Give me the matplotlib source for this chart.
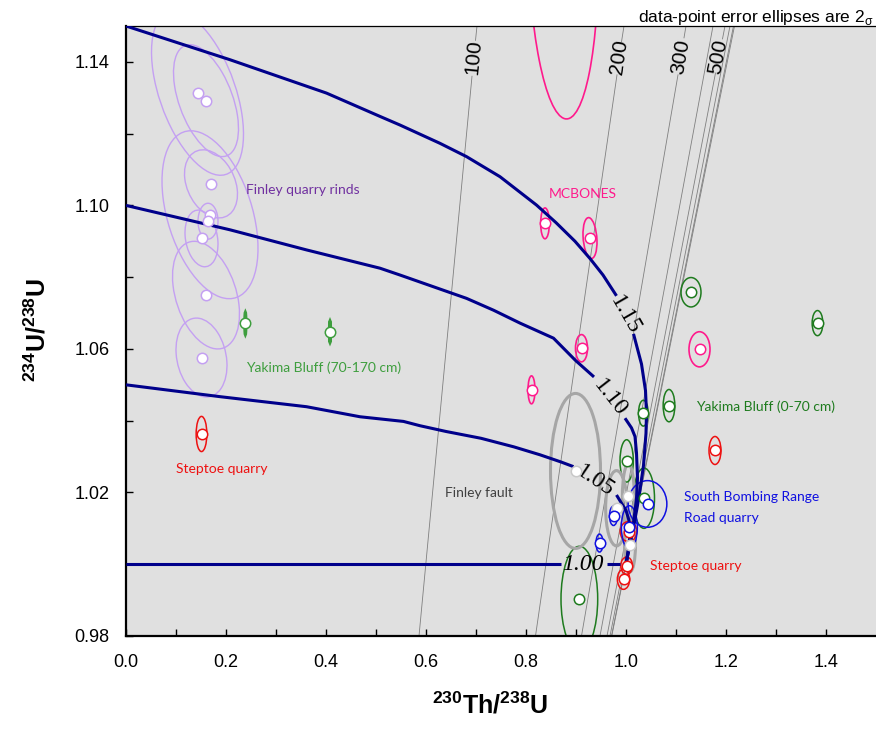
import numpy as np
import matplotlib.pyplot as plt
from matplotlib.patches import Ellipse
import matplotlib.transforms as transforms

nan = np.nan

# ---- axis ticks ----
x_major = [0.0, 0.2, 0.4, 0.6, 0.8, 1.0, 1.2, 1.4]
x_minor = [0.1, 0.3, 0.5, 0.7, 0.9, 1.1, 1.3]
y_major = [0.98, 1.02, 1.06, 1.10, 1.14]
y_minor = [1.00, 1.04, 1.08, 1.12]

# ---- initial 234U/238U evolution curves (nan = gap for the label) ----
evo_115_x = [0.000, 0.208, 0.401, 0.508, 0.548, 0.628, 0.681, 0.748, 0.821, 0.860, 0.898,
             0.928, 0.954, 0.981, nan, 1.015, 1.031, 1.039, 1.041, 1.040, 1.035, 1.028,
             1.022, 1.013, 1.003, 1.000]
evo_115_y = [1.150, 1.1406, 1.1313, 1.1248, 1.1224, 1.1173, 1.1136, 1.1080, 1.1001, 1.0952,
             1.0900, 1.0852, 1.0806, 1.0748, nan, 1.0642, 1.0558, 1.0484, 1.0422, 1.0365,
             1.0275, 1.0207, 1.0156, 1.0089, 1.0022, 1.000]
evo_110_x = [0.000, 0.208, 0.361, 0.508, 0.548, 0.681, 0.735, 0.788, 0.855, 0.899, 0.936,
             nan, 0.998, 1.011, 1.018, 1.021, 1.023, 1.021, 1.014, 1.004, 1.000]
evo_110_y = [1.100, 1.0932, 1.0876, 1.0825, 1.0806, 1.0741, 1.0708, 1.0672, 1.0630, 1.0568,
             1.0522, nan, 1.0407, 1.0380, 1.0356, 1.0310, 1.0240, 1.0183, 1.0104, 1.0030,
             1.000]
evo_105_x = [0.000, 0.188, 0.361, 0.468, 0.555, 0.588, 0.640, 0.710, 0.776, 0.828, 0.870,
             0.895, nan, 0.981, 0.991, 1.000, 1.006, 1.008, 1.006, 1.000]
evo_105_y = [1.050, 1.0467, 1.0439, 1.0411, 1.0398, 1.0386, 1.0370, 1.0351, 1.0327, 1.0305,
             1.0285, 1.0272, nan, 1.0193, 1.0170, 1.0150, 1.0122, 1.0092, 1.0052, 1.000]
evo_100_x = [0.000, 0.869, nan, 0.961, 0.988]
evo_100_y = [1.000, 1.000, nan, 1.000, 1.000]

evo_labels = ['1.15', '1.10', '1.05', '1.00']
evo_label_x = [0.998, 0.968, 0.938, 0.914]
evo_label_y = [1.0695, 1.0463, 1.0232, 1.0000]

# ---- isochrons (ka) ----
iso_100_x = [0.702, 0.699, nan, 0.692, 0.586]
iso_100_y = [1.150, 1.146, nan, 1.136, 0.980]
iso_200_x = [0.996, 0.991, nan, 0.982, 0.819]
iso_200_y = [1.150, 1.1456, nan, 1.1364, 0.980]
iso_300_x = [1.120, 1.116, nan, 1.104, 0.911]
iso_300_y = [1.150, 1.1467, nan, 1.1364, 0.980]
iso_500_x = [1.198, 1.193, nan, 1.179, 0.962]
iso_500_y = [1.150, 1.1464, nan, 1.1369, 0.980]
iso_other_top_x = [1.174, 1.208, 1.215, 1.217]
iso_other_bot_x = [0.948, 0.968, 0.971, 0.9715]

iso_labels = ['100', '200', '300', '500']
iso_label_x = [0.696, 0.987, 1.110, 1.185]
iso_label_y = [1.1414, 1.1414, 1.1414, 1.1414]

# ---- samples: centre, 2-sigma half extents, correlation ----
finley_x = [0.143, 0.160, 0.170, 0.168, 0.151, 0.160, 0.151, 0.164]
finley_y = [1.1313, 1.1292, 1.1060, 1.0974, 1.0908, 1.0750, 1.0576, 1.0956]
finley_sx = [0.092, 0.065, 0.053, 0.096, 0.033, 0.067, 0.051, 0.020]
finley_sy = [0.0229, 0.0156, 0.0095, 0.0234, 0.0079, 0.0150, 0.0110, 0.0050]
finley_rho = [-0.5, -0.5, -0.3, -0.4, -0.2, -0.35, -0.2, 0.0]

mc_x = [0.838, 0.928, 0.911, 0.811, 1.147, 0.874]
mc_y = [1.0950, 1.0909, 1.0602, 1.0486, 1.0599, 1.174]
mc_sx = [0.0087, 0.014, 0.012, 0.007, 0.021, 0.071]
mc_sy = [0.0043, 0.0057, 0.0038, 0.0039, 0.0049, 0.0499]
mc_rho = [0.0, -0.2, 0.0, 0.0, 0.0, -0.1]

yb_deep_x = [0.2387, 0.408]
yb_deep_y = [1.0671, 1.0648]
yb_deep_sx = [0.0012, 0.0012]
yb_deep_sy = [0.0031, 0.0030]

yb_top_x = [1.130, 1.383, 1.086, 1.0347, 1.0013, 1.036, 0.9067]
yb_top_y = [1.0758, 1.0672, 1.0442, 1.0421, 1.0288, 1.0184, 0.9903]
yb_top_sx = [0.020, 0.0107, 0.0117, 0.0097, 0.0133, 0.021, 0.0367]
yb_top_sy = [0.0041, 0.0035, 0.0045, 0.0036, 0.0059, 0.0084, 0.0147]

st_x = [0.151, 1.178, 1.005, 1.0013, 0.995]
st_y = [1.0363, 1.0317, 1.0091, 0.9996, 0.9958]
st_sx = [0.0107, 0.012, 0.0167, 0.0117, 0.0123]
st_sy = [0.0049, 0.0039, 0.0028, 0.0024, 0.0028]

ff_x = [0.899, 0.981, 1.0047, 1.008]
ff_y = [1.0260, 1.0156, 1.0189, 1.0054]
ff_sx = [0.050, 0.0217, 0.012, 0.011]
ff_sy = [0.0216, 0.0105, 0.0090, 0.0075]

sb_x = [1.043, 1.0067, 0.975, 0.947]
sb_y = [1.0168, 1.0103, 1.0135, 1.0059]
sb_sx = [0.0387, 0.016, 0.008, 0.007]
sb_sy = [0.0065, 0.0060, 0.0027, 0.0025]

# ---- style ----
plt.rcParams['font.family'] = ['Liberation Sans', 'DejaVu Sans']
plt.rcParams['mathtext.fontset'] = 'custom'
plt.rcParams['mathtext.rm'] = 'Liberation Sans'
plt.rcParams['mathtext.bf'] = 'Liberation Sans:bold'

NAVY = '#00008B'
LAV = '#C4A0F2'
PINK = '#FF1A8C'
GREEN_L = '#3E9E3E'
GREEN_D = '#1E7B1E'
RED = '#EE1111'
GREY = '#A6A6A6'
BLUE = '#1010E0'


def error_ellipse(ax, cx, cy, sx, sy, rho, color, lw):
    # unit ellipse for correlation rho, then stretched to the x / y half extents
    ell = Ellipse((0, 0), width=2 * np.sqrt(1 + rho), height=2 * np.sqrt(1 - rho),
                  facecolor='none', edgecolor=color, lw=lw, zorder=2.5)
    tr = transforms.Affine2D().rotate_deg(45).scale(sx, sy).translate(cx, cy)
    ell.set_transform(tr + ax.transData)
    ax.add_patch(ell)


def group(ax, xs, ys, sxs, sys, rhos, color, lw, edge=None):
    for cx, cy, sx, sy, r in zip(xs, ys, sxs, sys, rhos):
        error_ellipse(ax, cx, cy, sx, sy, r, color, lw)
    ax.plot(xs, ys, 'o', mfc='white', mec=edge or color, ms=7.5, mew=1.1, zorder=5)


fig = plt.figure(figsize=(8.76, 7.3), dpi=100)
ax = fig.add_axes([126 / 876, 1 - 636 / 730, 750 / 876, 610 / 730])
ax.set_facecolor('#E0E0E0')
ax.set_xlim(0, 1.5)
ax.set_ylim(0.98, 1.15)

# isochrons
for xs, ys in [(iso_100_x, iso_100_y), (iso_200_x, iso_200_y),
               (iso_300_x, iso_300_y), (iso_500_x, iso_500_y)]:
    ax.plot(xs, ys, color='#7F7F7F', lw=0.6, zorder=1)
for xt, xb in zip(iso_other_top_x, iso_other_bot_x):
    ax.plot([xt, xb], [1.15, 0.98], color='#7F7F7F', lw=0.6, zorder=1)
for lab, lx, ly, rot in zip(iso_labels, iso_label_x, iso_label_y, [84.6, 81.7, 80.3, 79.1]):
    ax.text(lx, ly, lab, rotation=rot, ha='center', va='center', fontsize=15, zorder=4)

# evolution curves
for xs, ys in [(evo_115_x, evo_115_y), (evo_110_x, evo_110_y),
               (evo_105_x, evo_105_y), (evo_100_x, evo_100_y)]:
    ax.plot(xs, ys, color=NAVY, lw=2.2, zorder=3, solid_capstyle='butt')
for lab, lx, ly, rot, st in zip(evo_labels, evo_label_x, evo_label_y,
                                [-60, -52, -34, 0], ['normal', 'normal', 'normal', 'italic']):
    ax.text(lx, ly, lab, rotation=rot, ha='center', va='center', fontsize=17,
            family='Liberation Serif', style=st, zorder=4)

# samples
group(ax, finley_x, finley_y, finley_sx, finley_sy, finley_rho, LAV, 1.0)
group(ax, mc_x, mc_y, mc_sx, mc_sy, mc_rho, PINK, 1.2)
group(ax, yb_deep_x, yb_deep_y, yb_deep_sx, yb_deep_sy, [0.0, 0.0], GREEN_L, 2.2)
group(ax, yb_top_x, yb_top_y, yb_top_sx, yb_top_sy, [0.0] * 7, GREEN_D, 1.1)
group(ax, ff_x, ff_y, ff_sx, ff_sy, [0.0] * 4, GREY, 2.2, edge='#C8C8C8')
group(ax, st_x, st_y, st_sx, st_sy, [0.0] * 5, RED, 1.1)
group(ax, sb_x, sb_y, sb_sx, sb_sy, [0.0] * 4, BLUE, 1.1)

# group labels
lab_font = dict(family='Lato', fontsize=10, va='center', ha='left', zorder=6)
ax.text(0.240, 1.1043, 'Finley quarry rinds', color='#7030A0', **lab_font)
ax.text(0.240, 1.0547, 'Yakima Bluff (70-170 cm)', color=GREEN_L, **lab_font)
ax.text(0.100, 1.0266, 'Steptoe quarry', color=RED, **lab_font)
ax.text(0.846, 1.1032, 'MCBONES', color=PINK, **lab_font)
ax.text(0.638, 1.0199, 'Finley fault', color='#404040', **lab_font)
ax.text(1.140, 1.0438, 'Yakima Bluff (0-70 cm)', color=GREEN_D, **lab_font)
ax.text(1.116, 1.0188, 'South Bombing Range', color=BLUE, **lab_font)
ax.text(1.116, 1.0129, 'Road quarry', color=BLUE, **lab_font)
ax.text(1.048, 0.9995, 'Steptoe quarry', color=RED, **lab_font)

# axes styling
ax.spines['right'].set_visible(False)
ax.spines['top'].set_linewidth(0.9)
ax.spines['left'].set_linewidth(1.6)
ax.spines['bottom'].set_linewidth(1.6)
ax.set_xticks(x_major)
ax.set_xticks(x_minor, minor=True)
ax.set_xticklabels([f'{v:.1f}' for v in x_major])
ax.set_yticks(y_major)
ax.set_yticks(y_minor, minor=True)
ax.set_yticklabels([f'{v:.2f}' for v in y_major])
ax.tick_params(which='both', direction='in', length=5, width=1.0, top=False, right=False,
               labelsize=13)
ax.tick_params(axis='x', which='both', pad=13)
ax.tick_params(axis='y', which='both', pad=12)

fig.text(490 / 876, 1 - 705 / 730, r'$\mathbf{^{230}Th/^{238}U}$', ha='center', va='center', fontsize=18)
fig.text(37 / 876, 1 - 330 / 730, r'$\mathbf{^{234}U/^{238}U}$', ha='center', va='center',
         fontsize=18, rotation=90)
fig.text(873 / 876, 1 - 22 / 730, r'data-point error ellipses are 2$_{\mathrm{\sigma}}$',
         ha='right', va='baseline', fontsize=12.5)

fig.savefig('out.png', dpi=100)
